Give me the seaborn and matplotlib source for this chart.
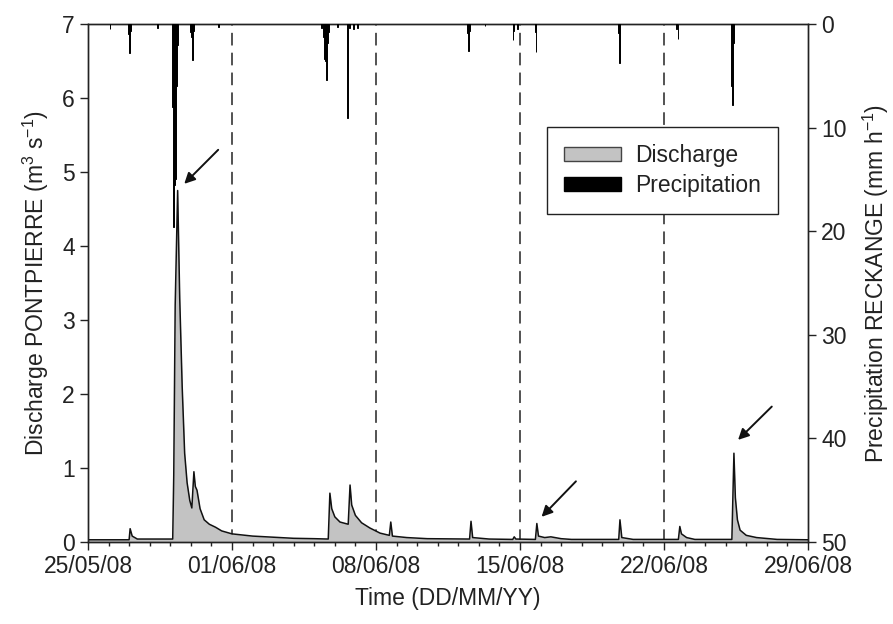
import pandas as pd
import matplotlib.pyplot as plt
import matplotlib.dates as mdates
import seaborn as sns
from matplotlib.patches import Patch
from matplotlib.ticker import MultipleLocator

# start of the record, all times below are days since this moment
inicio = pd.Timestamp('2008-05-25')

# discharge at PONTPIERRE (m3/s)
q_dia = [0.0, 2.0, 2.05, 2.15, 2.4, 4.12, 4.17, 4.24, 4.36, 4.46, 4.58, 4.70, 4.82,
         4.95, 5.05, 5.15, 5.22, 5.30, 5.45, 5.65, 5.9, 6.2, 6.5, 7.0, 8.0, 9.0,
         10.0, 11.0, 11.68, 11.76, 11.85, 12.0, 12.25, 12.65, 12.74, 12.82, 13.0,
         13.3, 13.7, 14.2, 14.65, 14.72, 14.8, 15.5, 16.5, 18.55, 18.62, 18.7,
         19.5, 20.65, 20.72, 20.8, 21.75, 21.82, 21.9, 22.2, 22.5, 23.0, 23.5,
         25.8, 25.86, 25.95, 26.5, 28.7, 28.77, 28.85, 29.1, 29.5, 31.3, 31.4,
         31.47, 31.57, 31.7, 32.0, 32.5, 33.5, 35.0]
q_valor = [0.03, 0.03, 0.18, 0.08, 0.04, 0.04, 0.9, 3.2, 4.75, 3.3, 2.1, 1.2, 0.8,
           0.56, 0.46, 0.95, 0.75, 0.70, 0.45, 0.3, 0.24, 0.2, 0.15, 0.11, 0.08,
           0.065, 0.05, 0.045, 0.04, 0.66, 0.45, 0.34, 0.27, 0.24, 0.77, 0.5,
           0.36, 0.26, 0.19, 0.12, 0.09, 0.27, 0.08, 0.06, 0.045, 0.04, 0.28,
           0.06, 0.04, 0.035, 0.07, 0.04, 0.035, 0.25, 0.08, 0.06, 0.07, 0.045,
           0.035, 0.035, 0.3, 0.06, 0.035, 0.035, 0.21, 0.11, 0.06, 0.035,
           0.035, 1.2, 0.6, 0.3, 0.16, 0.09, 0.06, 0.035, 0.03]

# hourly precipitation at RECKANGE (mm/h)
p_dia = [1.07, 1.95, 2.0, 2.04, 2.08, 3.4, 4.1, 4.15, 4.2, 4.25, 4.29, 4.33,
         5.0, 5.04, 5.08, 5.12, 6.35, 11.35, 11.45, 11.5, 11.55, 11.6, 11.65,
         11.7, 12.15, 12.62, 12.7, 12.9, 13.1, 18.45, 18.5, 18.52, 18.56, 19.3,
         20.66, 20.7, 20.9, 21.74, 21.78, 25.8, 25.82, 28.62, 28.68, 31.3,
         31.35, 31.39]
p_mm = [0.5, 1.0, 1.1, 2.8, 0.7, 0.4, 8.0, 19.6, 15.5, 15.0, 6.0, 2.0,
        0.8, 1.3, 3.5, 0.7, 0.3, 0.4, 1.3, 3.4, 3.6, 5.4, 1.8,
        0.8, 0.3, 9.1, 0.4, 0.5, 0.4, 0.9, 1.0, 2.6, 0.7, 0.2,
        1.5, 0.7, 0.5, 0.8, 2.7, 0.9, 3.8, 0.5, 1.4, 6.0,
        7.8, 1.8]

# weekly separators and x tick labels
semanas = pd.date_range('2008-06-01', '2008-06-22', freq='7D')
ticks_x = pd.date_range('2008-05-25', '2008-06-29', freq='7D')

vazao = pd.DataFrame({'tempo': inicio + pd.to_timedelta(q_dia, unit='D'),
                      'q': q_valor})
chuva = pd.DataFrame({'tempo': inicio + pd.to_timedelta(p_dia, unit='D'),
                      'p': p_mm})

sns.set_style('ticks')
plt.rcParams['font.family'] = ['Liberation Sans', 'DejaVu Sans']
plt.rcParams['mathtext.default'] = 'regular'
plt.rcParams['text.color'] = '#222222'
plt.rcParams['axes.labelcolor'] = '#222222'
plt.rcParams['xtick.color'] = '#222222'
plt.rcParams['ytick.color'] = '#222222'

fs = 16.5

fig = plt.figure(figsize=(8.93, 6.24), dpi=100)
ax = fig.add_axes([0.0985, 0.1314, 0.8063, 0.8301])

ax.fill_between(vazao['tempo'], 0, vazao['q'], color='#c3c3c3', lw=0, zorder=2)
sns.lineplot(data=vazao, x='tempo', y='q', color='#111111', lw=1.1, ax=ax, zorder=3)

for s in semanas:
    ax.axvline(s, color='#444444', lw=1.3, ls=(0, (7, 4)), zorder=1)

ax.set_xlim(pd.Timestamp('2008-05-25'), pd.Timestamp('2008-06-29'))
ax.set_ylim(0, 7)
ax.set_xticks(ticks_x)
ax.xaxis.set_major_formatter(mdates.DateFormatter('%d/%m/%y'))
ax.xaxis.set_minor_locator(mdates.DayLocator())
ax.yaxis.set_major_locator(MultipleLocator(1))
ax.tick_params(axis='both', which='major', labelsize=fs, length=6, width=1, direction='out')
ax.tick_params(axis='x', which='minor', length=3, width=1, direction='out')
ax.set_xlabel('Time (DD/MM/YY)', fontsize=fs, labelpad=6)
ax.set_ylabel('Discharge PONTPIERRE (m$^3$ s$^{-1}$)', fontsize=fs, labelpad=8)

ax2 = ax.twinx()
ax2.bar(chuva['tempo'], chuva['p'], width=0.045, color='black', edgecolor='black',
        lw=0.7, align='center', zorder=4)
ax2.set_ylim(50, 0)
ax2.yaxis.set_major_locator(MultipleLocator(10))
ax2.tick_params(axis='y', labelsize=fs, length=6, width=1, direction='out')
ax2.set_ylabel('Precipitation RECKANGE (mm h$^{-1}$)', fontsize=fs, labelpad=10)

for a in (ax, ax2):
    for lado in a.spines.values():
        lado.set_visible(True)
        lado.set_color('#222222')
        lado.set_linewidth(1)

# arrows pointing at the highlighted events (head, tail) in days / discharge units
setas = [((4.68, 4.84), (6.33, 5.3)),
         ((22.05, 0.34), (23.72, 0.82)),
         ((31.6, 1.38), (33.24, 1.83))]
for cabeca, cauda in setas:
    ax2.annotate('', xy=(inicio + pd.Timedelta(days=cabeca[0]), (7 - cabeca[1]) / 7 * 50),
                 xytext=(inicio + pd.Timedelta(days=cauda[0]), (7 - cauda[1]) / 7 * 50),
                 arrowprops=dict(arrowstyle='-|>', color='#111111', lw=1.4,
                                 mutation_scale=16, shrinkA=0, shrinkB=0))

handles = [Patch(facecolor='#c3c3c3', edgecolor='#444444', label='Discharge'),
           Patch(facecolor='black', edgecolor='black', label='Precipitation')]
leg = ax2.legend(handles=handles, loc='upper left', bbox_to_anchor=(0.6375, 0.801),
                 borderaxespad=0, fontsize=fs, frameon=True, fancybox=False,
                 framealpha=1, edgecolor='#222222', handlelength=2.5,
                 handleheight=0.6, borderpad=0.75, labelspacing=0.3,
                 handletextpad=0.6)
leg.get_frame().set_linewidth(1)

fig.savefig('out.png', dpi=100)
plt.close(fig)
